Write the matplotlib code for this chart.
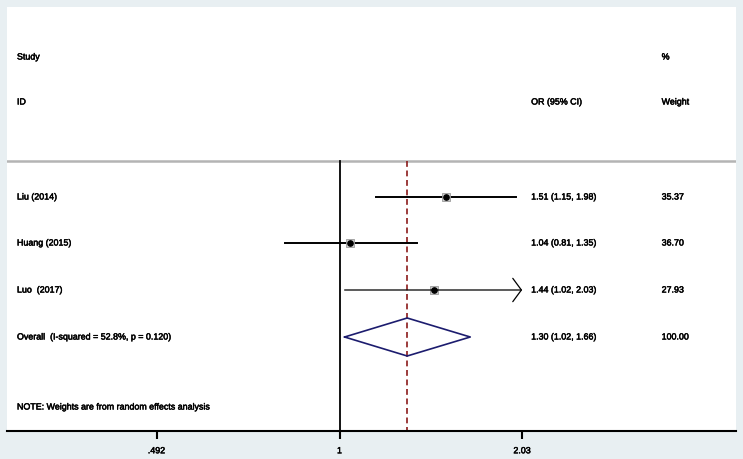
import numpy as np
import matplotlib
matplotlib.use('Agg')
import matplotlib.pyplot as plt
import matplotlib.patheffects as pe
from matplotlib.transforms import blended_transform_factory

plt.rcParams['font.family'] = ['Liberation Sans', 'DejaVu Sans']

# data
studies = ['Liu (2014)', 'Huang (2015)', 'Luo  (2017)']
odds = [1.51, 1.04, 1.44]
ci_low = [1.15, 0.81, 1.02]
ci_high = [1.98, 1.35, 2.03]
weights = [35.37, 36.70, 27.93]
arrow_right = [False, False, True]

overall_label = 'Overall  (I-squared = 52.8%, p = 0.120)'
overall_or = 1.30
overall_lo = 1.02
overall_hi = 1.66
overall_weight = 100.00

tick_vals = [0.492, 1, 2.03]
tick_labels = ['.492', '1', '2.03']
note = 'NOTE: Weights are from random effects analysis'

# layout (pixel-like rows, top = 7)
row_y = [197, 243, 290]
overall_y = 337
bg = '#e8eff2'
fs = 6.4
heavy = [pe.withStroke(linewidth=0.35, foreground='black')]

fig = plt.figure(figsize=(7.43, 4.59), dpi=100, facecolor=bg)
W, H = 743, 459
ax = fig.add_axes([7 / W, (H - 431) / H, 729 / W, 424 / H])
ax.set_facecolor('white')
ax.set_xscale('log')
ax.set_xlim(0.2756, 4.65)
ax.set_ylim(431, 7)
ax.minorticks_off()

for s in ['top', 'left', 'right']:
    ax.spines[s].set_visible(False)
ax.spines['bottom'].set_linewidth(1.5)
ax.set_yticks([])
ax.set_xticks(tick_vals)
ax.set_xticklabels(tick_labels, fontsize=fs)
for lab in ax.get_xticklabels():
    lab.set_path_effects(heavy)
ax.tick_params(axis='x', length=6, width=1.5, pad=5)

tr = blended_transform_factory(ax.transAxes, ax.transData)
x_name, x_or, x_w = 0.0137, 0.719, 0.898


def txt(x, y, s):
    ax.text(x, y, s, transform=tr, fontsize=fs, va='center', path_effects=heavy)


# headers
txt(x_name, 57, 'Study')
txt(x_name, 102, 'ID')
txt(x_or, 102, 'OR (95% CI)')
txt(x_w, 57, '%')
txt(x_w, 102, 'Weight')

# separator line
ax.axhline(161, color='#b4b4b4', lw=1.8)

# null line and overall line
ax.plot([1, 1], [161, 431], color='black', lw=1.3)
ax.plot([overall_or, overall_or], [161, 431], color='#8b1a1a', lw=1.2,
        linestyle=(0, (3.5, 2.2)))

for i in range(len(studies)):
    y = row_y[i]
    if arrow_right[i]:
        ax.annotate('', xy=(ci_high[i], y), xytext=(ci_low[i], y),
                    arrowprops=dict(arrowstyle='->,head_length=0.62,head_width=0.84',
                                    lw=0.9, color='black', mutation_scale=10,
                                    shrinkA=0, shrinkB=0))
    else:
        ax.plot([ci_low[i], ci_high[i]], [y, y], color='black', lw=1.4)
    box = 1.05 * np.sqrt(weights[i])
    ax.plot(odds[i], y, marker='s', ms=box, mfc='#cfcfcf', mec='#9a9a9a', mew=0.6)
    ax.plot(odds[i], y, marker='o', ms=3.8, color='black')
    txt(x_name, y, studies[i])
    txt(x_or, y, '%.2f (%.2f, %.2f)' % (odds[i], ci_low[i], ci_high[i]))
    txt(x_w, y, '%.2f' % weights[i])

# overall diamond
dx = [overall_lo, overall_or, overall_hi, overall_or, overall_lo]
dy = [overall_y, overall_y - 19, overall_y, overall_y + 19, overall_y]
ax.plot(dx, dy, color='#1c1c6e', lw=1.2)
txt(x_name, overall_y, overall_label)
txt(x_or, overall_y, '%.2f (%.2f, %.2f)' % (overall_or, overall_lo, overall_hi))
txt(x_w, overall_y, '%.2f' % overall_weight)

txt(x_name, 407, note)

fig.savefig('out.png', dpi=100, facecolor=bg)
